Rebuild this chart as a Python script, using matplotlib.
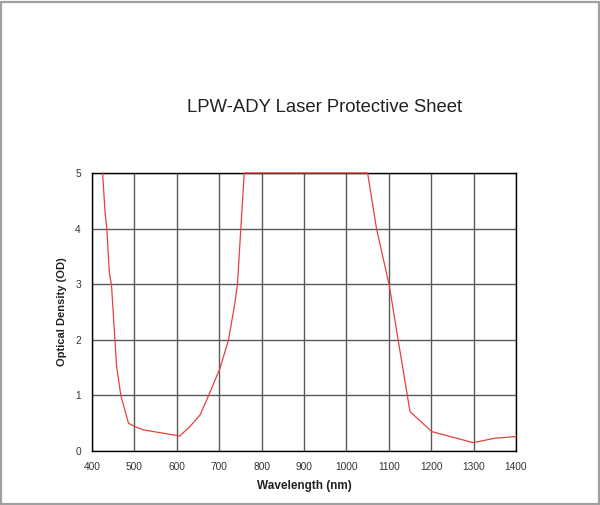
import matplotlib
matplotlib.use("Agg")
import matplotlib.pyplot as plt
from matplotlib.patches import Rectangle

plt.rcParams["font.family"] = ["Liberation Sans", "DejaVu Sans"]

# OD curve
wavelength = [425, 431, 435, 441, 446, 458, 468, 486, 501, 521, 607,
              631, 655, 674, 702, 722, 737, 743, 751, 759,
              1050, 1071, 1101, 1122, 1150, 1201, 1299, 1350, 1400]
od = [5.0, 4.27, 4.0, 3.2, 2.98, 1.52, 1.0, 0.5, 0.44, 0.38, 0.27,
      0.44, 0.65, 0.98, 1.49, 2.0, 2.66, 2.99, 4.0, 5.0,
      5.0, 4.0, 2.98, 2.0, 0.71, 0.35, 0.15, 0.23, 0.26]

xticks = list(range(400, 1401, 100))
yticks = [0, 1, 2, 3, 4, 5]

fig = plt.figure(figsize=(6.0, 5.05), dpi=100)
ax = fig.add_axes([92 / 600, 1 - 451 / 505, 424 / 600, 278 / 505])

ax.plot(wavelength, od, color="#e8403a", lw=0.9, clip_on=False, zorder=3)

ax.set_xlim(400, 1400)
ax.set_ylim(0, 5)
ax.set_xticks(xticks)
ax.set_yticks(yticks)
ax.grid(True, color="#5a5a5a", lw=1.0)
ax.set_axisbelow(True)
for s in ax.spines.values():
    s.set_color("black")
    s.set_linewidth(1.0)
ax.tick_params(length=0, labelsize=7.3, colors="#333333", pad=8)

ax.set_xlabel("Wavelength (nm)", fontsize=8.5, fontweight="bold", color="#222222", labelpad=6)
ax.set_ylabel("Optical Density (OD)", fontsize=8, fontweight="bold", color="#222222", labelpad=6)

fig.text(325 / 600, 1 - 108 / 505, "LPW-ADY Laser Protective Sheet",
         ha="center", va="center", fontsize=13.3, color="#222222")

# grey outer frame
fig.patches.append(Rectangle((0.001, 0.002), 0.997, 0.995, transform=fig.transFigure,
                             fill=False, edgecolor="#a0a0a0", lw=1.6))

fig.savefig("out.png", dpi=100)
